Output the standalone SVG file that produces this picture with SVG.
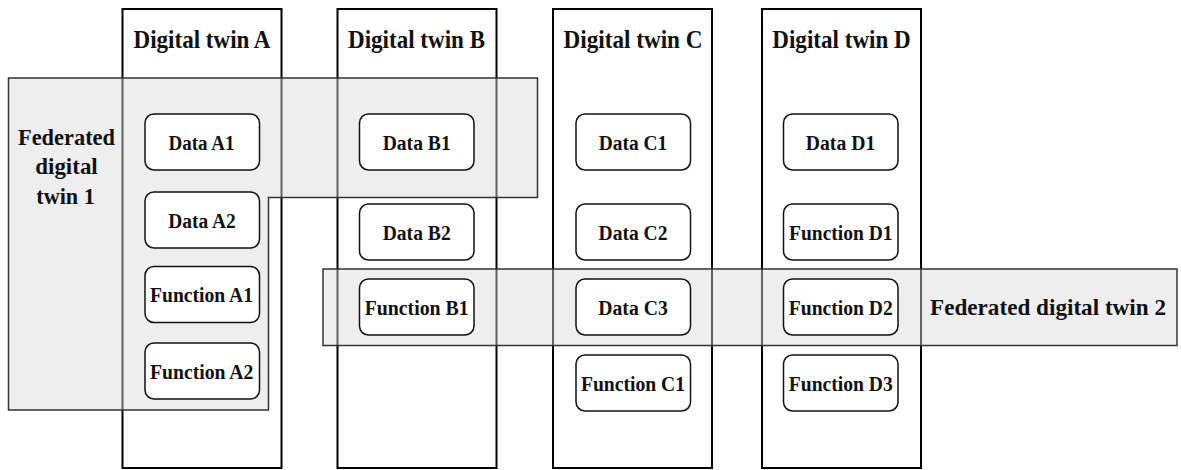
<svg xmlns="http://www.w3.org/2000/svg" width="1181" height="470" viewBox="0 0 1181 470">
<style>
text{font-family:"Liberation Serif","Times New Roman",serif;font-weight:bold;fill:#111;text-anchor:middle}
.col{fill:#fff;stroke:#000;stroke-width:2}
.fed{fill:rgb(218,218,218);fill-opacity:0.45;stroke:#333;stroke-width:1.5}
.node{fill:#fff;stroke:#111;stroke-width:1.5}
.h{font-size:25px}
.n{font-size:20.5px}
.fl{font-size:23px}
</style>
<rect width="1181" height="470" fill="#fff"/>
<g id="twin-A"><rect class="col" x="122.5" y="9" width="159" height="459"/><text class="h" x="202" y="47.5" textLength="137" lengthAdjust="spacingAndGlyphs">Digital twin A</text></g>
<g id="twin-B"><rect class="col" x="337.5" y="9" width="159" height="459"/><text class="h" x="416.5" y="47.5" textLength="137" lengthAdjust="spacingAndGlyphs">Digital twin B</text></g>
<g id="twin-C"><rect class="col" x="553" y="9" width="159" height="459"/><text class="h" x="633" y="47.5" textLength="139" lengthAdjust="spacingAndGlyphs">Digital twin C</text></g>
<g id="twin-D"><rect class="col" x="762" y="9" width="159" height="459"/><text class="h" x="841.5" y="47.5" textLength="138.5" lengthAdjust="spacingAndGlyphs">Digital twin D</text></g>
<g id="fed-1"><path class="fed" d="M8.5,78 H537.5 V197.5 H268.5 V410 H8.5 Z"/></g>
<g id="fed-2"><rect class="fed" x="323" y="269" width="854" height="76.5"/></g>
<g id="connectors"></g>
<g id="data-A1"><rect class="node" x="145" y="114" width="114.5" height="56" rx="9"/><text class="n" x="201.5" y="149.5" textLength="66" lengthAdjust="spacingAndGlyphs">Data A1</text></g>
<g id="data-A2"><rect class="node" x="145" y="192" width="114.5" height="56" rx="9"/><text class="n" x="202" y="227.5" textLength="67.5" lengthAdjust="spacingAndGlyphs">Data A2</text></g>
<g id="function-A1"><rect class="node" x="145" y="266.5" width="114.5" height="56" rx="9"/><text class="n" x="201.5" y="302" textLength="103" lengthAdjust="spacingAndGlyphs">Function A1</text></g>
<g id="function-A2"><rect class="node" x="145" y="343" width="114.5" height="56" rx="9"/><text class="n" x="201.7" y="378.5" textLength="103.5" lengthAdjust="spacingAndGlyphs">Function A2</text></g>
<g id="data-B1"><rect class="node" x="359.5" y="114" width="114.5" height="56" rx="9"/><text class="n" x="416.7" y="149.5" textLength="68" lengthAdjust="spacingAndGlyphs">Data B1</text></g>
<g id="data-B2"><rect class="node" x="359.5" y="204" width="114.5" height="56" rx="9"/><text class="n" x="416.7" y="239.5" textLength="68" lengthAdjust="spacingAndGlyphs">Data B2</text></g>
<g id="function-B1"><rect class="node" x="359.5" y="279" width="114.5" height="56" rx="9"/><text class="n" x="416.7" y="314.5" textLength="104" lengthAdjust="spacingAndGlyphs">Function B1</text></g>
<g id="data-C1"><rect class="node" x="576" y="114" width="114.5" height="56" rx="9"/><text class="n" x="633" y="149.5" textLength="68.5" lengthAdjust="spacingAndGlyphs">Data C1</text></g>
<g id="data-C2"><rect class="node" x="576" y="204" width="114.5" height="56" rx="9"/><text class="n" x="633" y="239.5" textLength="69" lengthAdjust="spacingAndGlyphs">Data C2</text></g>
<g id="data-C3"><rect class="node" x="576" y="279" width="114.5" height="56" rx="9"/><text class="n" x="633" y="314.5" textLength="69.5" lengthAdjust="spacingAndGlyphs">Data C3</text></g>
<g id="function-C1"><rect class="node" x="576" y="355" width="114.5" height="56" rx="9"/><text class="n" x="633" y="390.5" textLength="104" lengthAdjust="spacingAndGlyphs">Function C1</text></g>
<g id="data-D1"><rect class="node" x="783.5" y="114" width="114.5" height="56" rx="9"/><text class="n" x="840.5" y="149.5" textLength="69.5" lengthAdjust="spacingAndGlyphs">Data D1</text></g>
<g id="function-D1"><rect class="node" x="783.5" y="204" width="114.5" height="56" rx="9"/><text class="n" x="840.8" y="239.5" textLength="103.5" lengthAdjust="spacingAndGlyphs">Function D1</text></g>
<g id="function-D2"><rect class="node" x="783.5" y="279" width="114.5" height="56" rx="9"/><text class="n" x="840.8" y="314.5" textLength="104" lengthAdjust="spacingAndGlyphs">Function D2</text></g>
<g id="function-D3"><rect class="node" x="783.5" y="355" width="114.5" height="56" rx="9"/><text class="n" x="840.8" y="390.5" textLength="104" lengthAdjust="spacingAndGlyphs">Function D3</text></g>
<g id="fed-1-label"><text class="fl" x="66.5" y="144.5" textLength="97" lengthAdjust="spacingAndGlyphs">Federated</text><text class="fl" x="66.5" y="174" textLength="62.5" lengthAdjust="spacingAndGlyphs">digital</text><text class="fl" x="65.5" y="203.5" textLength="58.5" lengthAdjust="spacingAndGlyphs">twin 1</text></g>
<g id="fed-2-label"><text class="fl" x="1048" y="315" textLength="236" lengthAdjust="spacingAndGlyphs">Federated digital twin 2</text></g>
</svg>
